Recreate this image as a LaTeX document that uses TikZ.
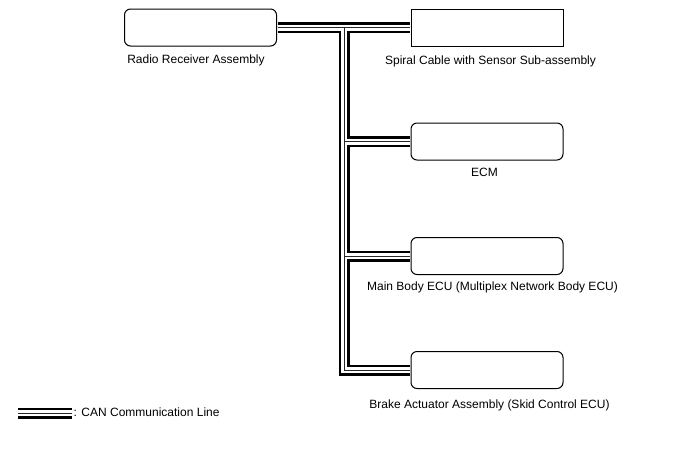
\documentclass[tikz,border=0pt]{standalone}
\usepackage{fontspec}
\setmainfont{Liberation Sans}
\usepackage{tikz}
\usetikzlibrary{positioning,calc}
\tikzset{
  ecu/.style={draw,line width=1pt,rounded corners=6pt,minimum width=152pt,
              minimum height=37pt,inner sep=0pt},
  ecusq/.style={ecu,sharp corners},
  lbl/.style={font=\fontsize{12}{14}\selectfont,inner sep=0pt,
              text height=8.8pt,text depth=2.4pt},
  bus/.style={line cap=butt,line join=miter,shorten <=0.5pt,shorten >=0.5pt}
}
% three passes give the CAN line: black body, white gap, thin centre wire
\newcommand{\canpass}{11pt/black,6pt/white,1pt/black!85}

\begin{document}
\begin{tikzpicture}[x=1pt,y=-1pt]
  \useasboundingbox (0,0) rectangle (688,463);
  \node[ecu] (radio) at (200.5,27.5) {};
  \node[ecusq] (spiral) at (487,27.5) {};
  \node[ecu] (ecm) at (487,141.5) {};
  \node[ecu] (body) at (487,256) {};
  \node[ecu] (brake) at (487,370) {};
  \coordinate (trunk) at (344,27.5);
  \coordinate (key) at (18,413);
  \coordinate (keyend) at (72,413);

  \node[lbl,below=8pt of radio,xshift=-4.5pt] (radiotxt) {Radio Receiver Assembly};
  \node[lbl,below=9pt of spiral,xshift=3.5pt] (spiraltxt) {Spiral Cable with Sensor Sub-assembly};
  \node[lbl,below=7pt of ecm,xshift=-2.5pt] (ecmtxt) {ECM};
  \node[lbl,below=6pt of body,xshift=5.5pt] (bodytxt) {Main Body ECU (Multiplex Network Body ECU)};
  \node[lbl,below=10pt of brake,xshift=2.5pt] (braketxt) {Brake Actuator Assembly (Skid Control ECU)};

  \foreach \w/\c in \canpass {
    \draw[bus,line width=\w,\c] (radio.east) -- (spiral.west);
    \draw[bus,line width=\w,\c,shorten <=0pt] (trunk) |- (brake.west);
    \draw[bus,line width=\w,\c,shorten <=0pt] (trunk |- ecm.west) -- (ecm.west);
    \draw[bus,line width=\w,\c,shorten <=0pt] (trunk |- body.west) -- (body.west);
    \draw[line width=\w,\c] (key) -- (keyend);
  }
  \node[lbl,anchor=west] (keytxt) at ($(keyend)+(1.5,0)$) {: CAN Communication Line};
\end{tikzpicture}
\end{document}
